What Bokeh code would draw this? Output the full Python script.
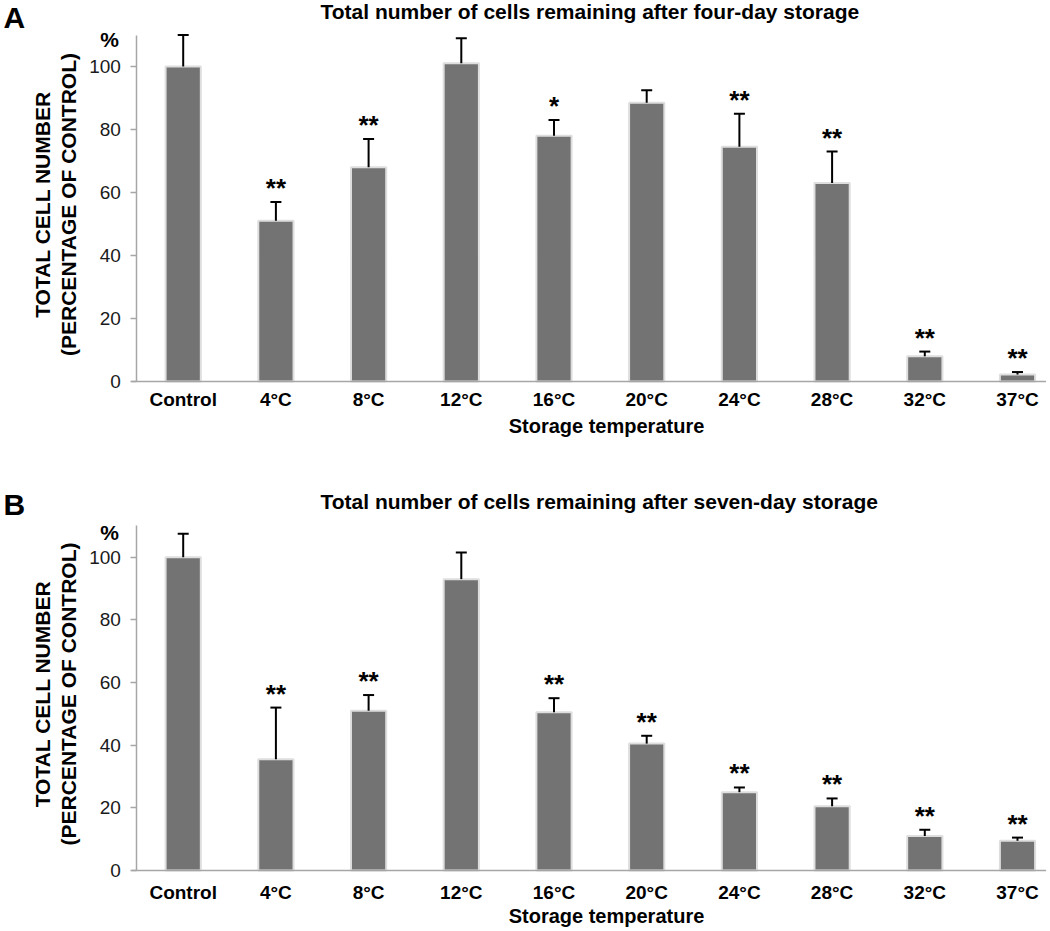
import math
from bokeh.plotting import figure
from bokeh.models import Range1d, FixedTicker, Label, Whisker, TeeHead, ColumnDataSource
from bokeh.layouts import column
from bokeh.embed import file_html
from bokeh.resources import INLINE
from bokeh.core.properties import value

# ---------------- data ----------------
categories = ["Control", "4°C", "8°C", "12°C", "16°C", "20°C", "24°C", "28°C", "32°C", "37°C"]

four_day_mean = [100, 51, 68, 101, 78, 88.5, 74.5, 63, 8, 2.2]
four_day_err = [10, 6, 9, 8, 5, 4, 10.5, 10, 1.5, 0.8]
four_day_sig = ["", "**", "**", "", "*", "", "**", "**", "**", "**"]

seven_day_mean = [100, 35.5, 51, 93, 50.5, 40.5, 25, 20.5, 11, 9.5]
seven_day_err = [7.5, 16.5, 5, 8.5, 4.5, 2.5, 1.5, 2.5, 2, 1]
seven_day_sig = ["", "**", "**", "", "**", "**", "**", "**", "**", "**"]

y_ticks = [0, 20, 40, 60, 80, 100]
y_max = 110

FONT = "Liberation Sans"
BAR_FILL = "#737373"
BAR_EDGE = "#dedede"
AXIS_COLOR = "#a6a6a6"

W = 1046           # canvas width in px
X_CENTER0 = 182.7  # px position of first category centre
X_STEP = 92.7      # px per category


def make_panel(letter, title, means, errs, sig, top, height, zero_px, px_per_unit,
               label_standoff, letter_base, title_base, pct_base, ylab_mid, xlab_base):
    # px (absolute in picture) -> data helpers
    def dx(px):
        return (px - X_CENTER0) / X_STEP

    def dy(py):
        return (zero_px - py) / px_per_unit

    x = list(range(len(categories)))
    upper = [m + e for m, e in zip(means, errs)]
    src = ColumnDataSource(dict(x=x, mean=means, upper=upper, sig=sig))

    p = figure(x_range=Range1d(dx(0), dx(W)), y_range=Range1d(dy(top + height), dy(top)),
               frame_width=W, frame_height=height,
               min_border=0, min_border_left=0, min_border_right=0,
               min_border_top=0, min_border_bottom=0,
               output_backend="svg", toolbar_location=None)
    p.outline_line_color = None
    p.xgrid.visible = False
    p.ygrid.visible = False

    p.vbar(x="x", top="mean", width=0.38, bottom=0, source=src,
           fill_color=BAR_FILL, line_color=BAR_EDGE, line_width=2)

    p.add_layout(Whisker(base="x", upper="upper", lower="mean", source=src,
                         line_color="black", line_width=2,
                         upper_head=TeeHead(size=11, line_color="black", line_width=2),
                         lower_head=None, level="overlay"))

    p.text(x="x", y="upper", text="sig", source=src,
           text_font=value(FONT), text_font_size="26px",
           text_font_style="bold", text_color="black",
           text_align="center", text_baseline="alphabetic", y_offset=-14)

    # axes placed at fixed data locations
    p.xaxis.fixed_location = 0
    p.xaxis.bounds = (dx(131), dx(W))
    p.xaxis.ticker = FixedTicker(ticks=x)
    p.xaxis.major_label_overrides = {i: c for i, c in enumerate(categories)}
    p.xaxis.major_tick_line_color = None
    p.xaxis.major_tick_out = 0
    p.xaxis.major_tick_in = 0
    p.xaxis.minor_tick_line_color = None
    p.xaxis.axis_line_color = AXIS_COLOR
    p.xaxis.axis_line_width = 1.5
    p.xaxis.major_label_text_font = FONT
    p.xaxis.major_label_text_font_size = "19px"
    p.xaxis.major_label_text_font_style = "bold"
    p.xaxis.major_label_text_color = "black"
    p.xaxis.major_label_standoff = label_standoff

    p.yaxis.fixed_location = -0.5
    p.yaxis.bounds = (0, y_max)
    p.yaxis.ticker = FixedTicker(ticks=y_ticks)
    p.yaxis.minor_tick_line_color = None
    p.yaxis.major_tick_in = 0
    p.yaxis.major_tick_out = 6
    p.yaxis.major_tick_line_color = AXIS_COLOR
    p.yaxis.major_tick_line_width = 1.5
    p.yaxis.axis_line_color = AXIS_COLOR
    p.yaxis.axis_line_width = 1.5
    p.yaxis.major_label_text_font = FONT
    p.yaxis.major_label_text_font_size = "19px"
    p.yaxis.major_label_text_color = "#1a1a1a"
    p.yaxis.major_label_standoff = 10

    def lab(px, py, text, size, align="left", rotated=False):
        fs = float(size.replace("px", ""))
        shift = 0.37 * fs  # compensate renderer baseline placement
        if rotated:
            px, angle = px - shift, math.pi / 2
        else:
            py, angle = py - shift, 0.0
        p.add_layout(Label(x=dx(px), y=dy(py), text=text, angle=angle,
                           text_font=FONT, text_font_size=size,
                           text_font_style="bold", text_color="black",
                           text_align=align, text_baseline="alphabetic"))

    lab(3, letter_base, letter, "30px")
    lab(320, title_base, title, "21px")
    lab(109, pct_base, "%", "21px", align="center")
    lab(50, ylab_mid, "TOTAL CELL NUMBER", "21px", align="center", rotated=True)
    lab(76, ylab_mid, "(PERCENTAGE OF CONTROL)", "21px", align="center", rotated=True)
    lab(606, xlab_base, "Storage temperature", "20px", align="center")
    return p


pA = make_panel("A", "Total number of cells remaining after four-day storage",
                four_day_mean, four_day_err, four_day_sig,
                top=0, height=460, zero_px=381, px_per_unit=3.15, label_standoff=7,
                letter_base=28, title_base=18.5, pct_base=46.7, ylab_mid=204,
                xlab_base=433.3)

pB = make_panel("B", "Total number of cells remaining after seven-day storage",
                seven_day_mean, seven_day_err, seven_day_sig,
                top=460, height=469, zero_px=870, px_per_unit=3.133, label_standoff=11,
                letter_base=515, title_base=509, pct_base=540, ylab_mid=693.5,
                xlab_base=923)

layout = column(pA, pB, spacing=0)
open("out.html", "w").write(file_html(layout, INLINE))
